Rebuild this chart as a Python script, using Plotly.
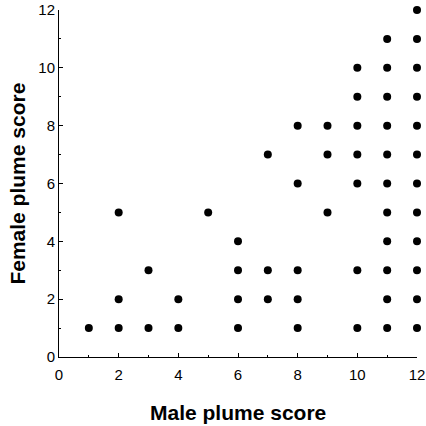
import plotly.graph_objects as go

male = [1, 2, 2, 2, 3, 3, 4, 4, 5, 6, 6, 6, 6, 7, 7, 7, 8, 8, 8, 8, 8, 9, 9, 9,
        10, 10, 10, 10, 10, 10, 10,
        11, 11, 11, 11, 11, 11, 11, 11, 11, 11, 11,
        12, 12, 12, 12, 12, 12, 12, 12, 12, 12, 12, 12]
female = [1, 1, 2, 5, 1, 3, 1, 2, 5, 1, 2, 3, 4, 2, 3, 7, 1, 2, 3, 6, 8, 5, 7, 8,
          1, 3, 6, 7, 8, 9, 10,
          1, 2, 3, 4, 5, 6, 7, 8, 9, 10, 11,
          1, 2, 3, 4, 5, 6, 7, 8, 9, 10, 11, 12]
x_ticks = [0, 2, 4, 6, 8, 10, 12]
y_ticks = [0, 2, 4, 6, 8, 10, 12]

fig = go.Figure(go.Scatter(x=male, y=female, mode="markers",
                           marker=dict(color="black", size=8),
                           cliponaxis=False))

axis_common = dict(
    showgrid=False, zeroline=False, showline=True, linecolor="black", linewidth=1,
    ticks="inside", ticklen=4, tickcolor="black", tickwidth=1,
    tickfont=dict(family="Liberation Sans, Arial", size=15, color="black"),
    minor=dict(ticks="inside", ticklen=2, dtick=1, tickcolor="black"),
    range=[0, 12], mirror=False, automargin=False,
)
fig.update_xaxes(**axis_common, tickvals=x_ticks, ticklabelstandoff=4)
fig.update_yaxes(**axis_common, tickvals=y_ticks)
title_font = dict(family="Liberation Sans, Arial", size=21, color="black")
fig.update_layout(
    width=426, height=426, margin=dict(l=59, r=9, t=10, b=69),
    plot_bgcolor="white", paper_bgcolor="white", showlegend=False,
    annotations=[
        dict(text="<b>Male plume score</b>", xref="paper", yref="paper",
             x=0.5, y=-0.161, xanchor="center", yanchor="middle",
             showarrow=False, font=title_font),
        dict(text="<b>Female plume score</b>", xref="paper", yref="paper",
             x=-0.117, y=0.5, xanchor="center", yanchor="middle",
             textangle=-90, showarrow=False, font=title_font),
    ],
)
fig.write_html("out.html")
